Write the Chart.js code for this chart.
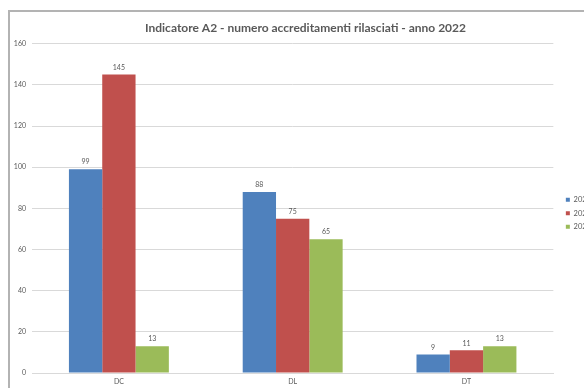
<!DOCTYPE html>
<html lang="it">
<head>
<meta charset="utf-8">
<title>Indicatore A2</title>
<script src="https://cdn.jsdelivr.net/npm/chart.js@4/dist/chart.umd.min.js"></script>
<style>
    html, body { margin: 0; padding: 0; background: #fff; width: 584px; height: 388px; overflow: hidden; }
    .cornice {
        position: absolute; left: 8px; top: 10px;
        width: 600px; height: 378px;
        border-left: 2px solid #b3b3b3; border-top: 2px solid #b3b3b3;
        overflow: hidden;
    }
    canvas { display: block; }
</style>
</head>
<body>
<div class="cornice">
    <canvas id="grafico_a2" width="600" height="376"></canvas>
</div>
<script>
const categorie = ["DC", "DL", "DT"];
const anni = ["2022", "2021", "2020"];
const valori2022 = [99, 88, 9];
const valori2021 = [145, 75, 11];
const valori2020 = [13, 65, 13];
const tickMax = 160;
const tickPasso = 20;

const coloriAnni = ["#4f81bd", "#c0504d", "#9bbb59"];
const grigioTesto = "#595959";
const fontBase = "Lato, 'Open Sans', sans-serif";

// etichette con il valore sopra ogni barra
const etichetteValori = {
    id: "etichetteValori",
    afterDatasetsDraw(chart) {
        const ctx = chart.ctx;
        ctx.save();
        ctx.font = "7px " + fontBase;
        ctx.fillStyle = grigioTesto;
        ctx.textAlign = "center";
        ctx.textBaseline = "middle";
        chart.data.datasets.forEach((ds, i) => {
            chart.getDatasetMeta(i).data.forEach((bar, j) => {
                ctx.fillText(ds.data[j], bar.x, bar.y - 7);
            });
        });
        ctx.restore();
    }
};

document.addEventListener("DOMContentLoaded", () => {
    const serie = [valori2022, valori2021, valori2020];

    new Chart(document.getElementById("grafico_a2"), {
        type: "bar",
        data: {
            labels: categorie,
            datasets: anni.map((anno, i) => ({
                label: anno,
                data: serie[i],
                backgroundColor: coloriAnni[i],
                borderWidth: 0,
                barPercentage: 1,
                categoryPercentage: 0.575
            }))
        },
        options: {
            responsive: false,
            animation: false,
            layout: { padding: { left: 0, right: 9, top: 0, bottom: 2 } },
            plugins: {
                title: {
                    display: true,
                    text: "Indicatore A2 - numero accreditamenti rilasciati - anno 2022",
                    color: grigioTesto,
                    font: { family: fontBase, size: 12, weight: "bold" },
                    padding: { top: 9, bottom: 8.3 }
                },
                legend: {
                    position: "right",
                    fullSize: false,
                    // titolo vuoto: abbassa un po' le voci della legenda
                    title: { display: true, text: "", font: { size: 8 }, padding: 0 },
                    labels: {
                        boxWidth: 4,
                        boxHeight: 4,
                        padding: 6,
                        color: grigioTesto,
                        font: { family: fontBase, size: 7.5 }
                    }
                },
                tooltip: { enabled: false }
            },
            scales: {
                x: {
                    afterFit: (s) => { s.height = 13; },
                    grid: { display: false, drawTicks: false },
                    border: { color: "#d9d9d9" },
                    ticks: {
                        padding: 5,
                        color: grigioTesto,
                        font: { family: fontBase, size: 7 }
                    }
                },
                y: {
                    min: 0,
                    max: tickMax,
                    afterFit: (s) => { s.width = 22; },
                    grid: { color: "#d9d9d9", drawTicks: false },
                    border: { display: false },
                    ticks: {
                        stepSize: tickPasso,
                        padding: 6,
                        color: grigioTesto,
                        font: { family: fontBase, size: 7 }
                    }
                },
                // spazio vuoto tra area del grafico e legenda
                margine: {
                    type: "linear",
                    position: "right",
                    afterFit: (s) => { s.width = 6.5; },
                    grid: { display: false },
                    border: { display: false },
                    ticks: { display: false }
                }
            }
        },
        plugins: [etichetteValori]
    });
});
</script>
</body>
</html>
